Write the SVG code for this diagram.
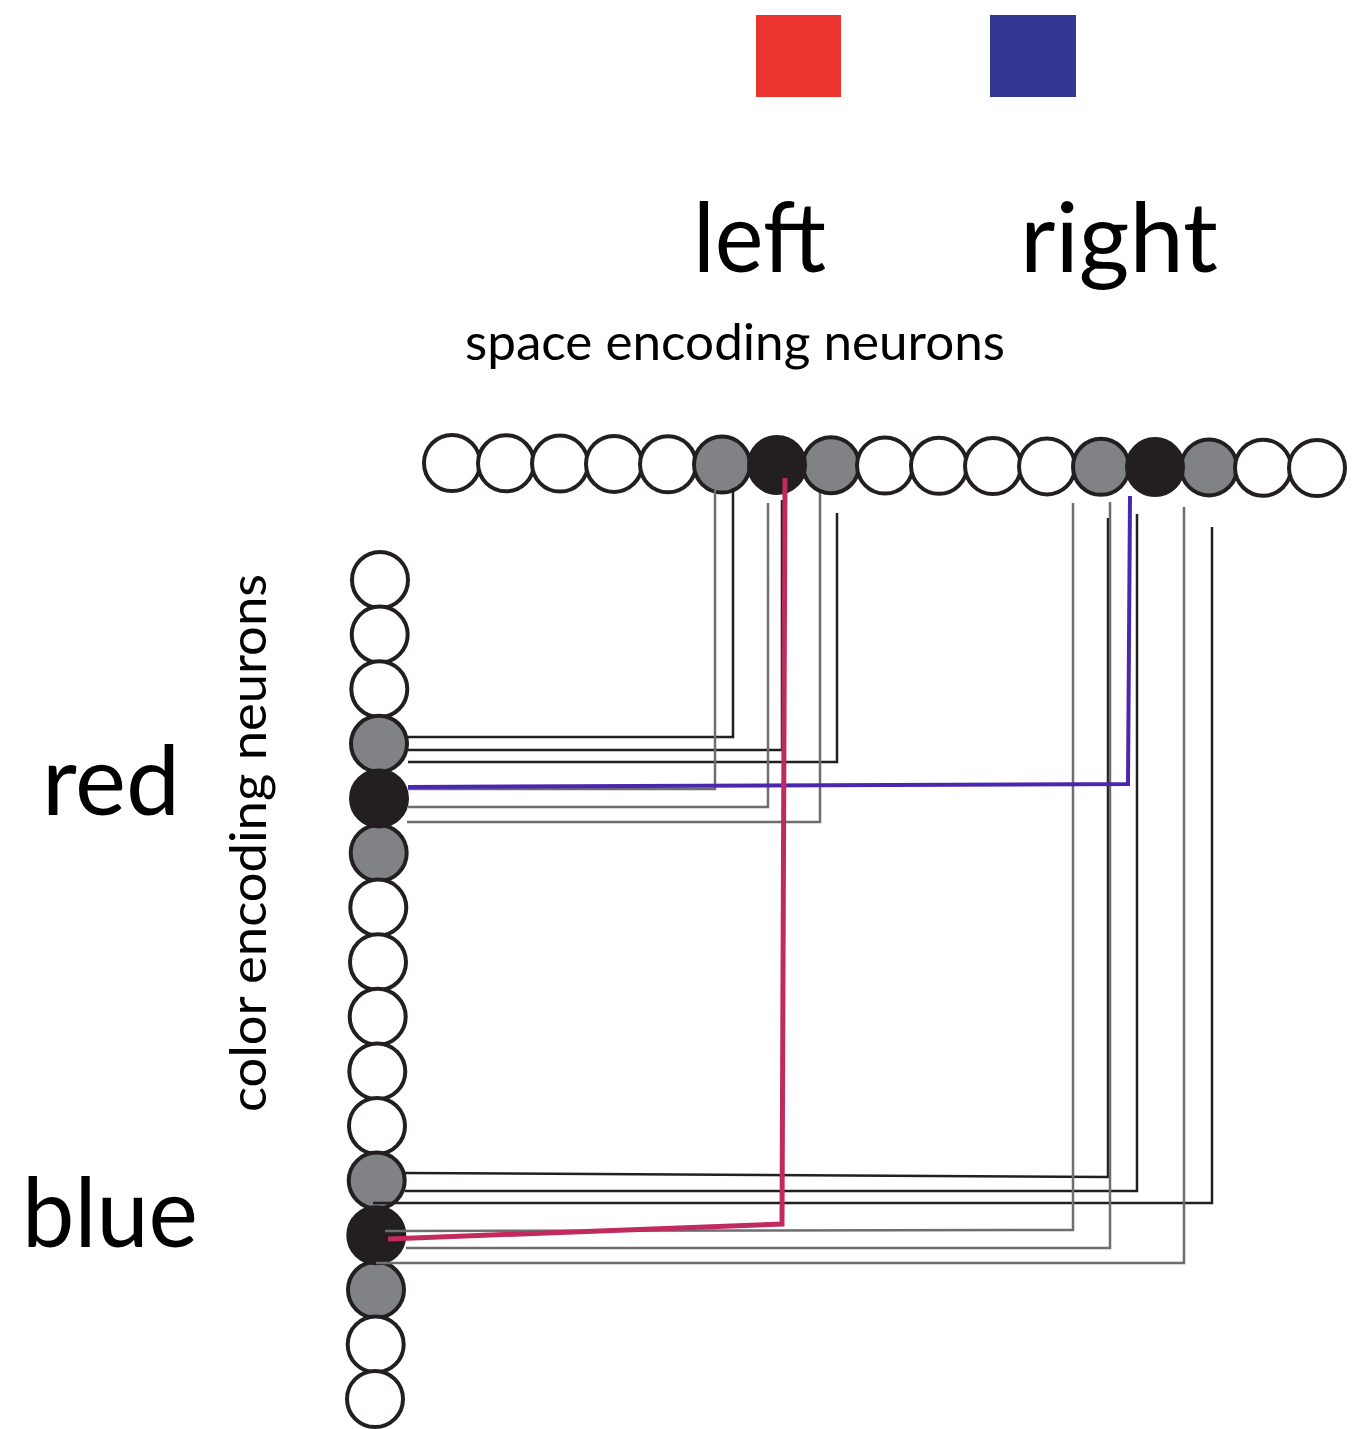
<svg xmlns="http://www.w3.org/2000/svg" width="1367" height="1429" viewBox="0 0 1367 1429">
<style>
.lbl{font-family:Lato,"Open Sans","Liberation Sans",sans-serif;fill:#000}
.n{stroke:#231f20;stroke-width:4}
.w{fill:#fff}
.g{fill:#808285}
.k{fill:#231f20}
.cb{fill:none;stroke:#231f20;stroke-width:2.5}
.cg{fill:none;stroke:#6d6e71;stroke-width:2.5}
</style>
<rect x="0" y="0" width="1367" height="1429" fill="#fff"/>
<g id="legend">
<rect id="legend-red" x="756" y="15" width="85" height="82" fill="#eb3430"/>
<rect id="legend-blue" x="990" y="15" width="86" height="82" fill="#333894"/>
</g>
<g id="labels">
<text class="lbl" x="693" y="272" font-size="97" textLength="133" lengthAdjust="spacingAndGlyphs">left</text>
<text class="lbl" x="1020" y="272" font-size="97" textLength="198" lengthAdjust="spacingAndGlyphs">right</text>
<text class="lbl" x="465" y="360" font-size="50" textLength="540" lengthAdjust="spacingAndGlyphs" fill="#231f20">space encoding neurons</text>
<text class="lbl" x="42" y="815" font-size="97" textLength="138" lengthAdjust="spacingAndGlyphs">red</text>
<text class="lbl" x="22" y="1247" font-size="97" textLength="176" lengthAdjust="spacingAndGlyphs">blue</text>
<text class="lbl" transform="translate(266,1112) rotate(-90)" x="0" y="0" font-size="50" textLength="538" lengthAdjust="spacingAndGlyphs" fill="#231f20">color encoding neurons</text>
</g>
<g id="space-neurons">
<circle id="s0" class="n w" cx="452" cy="463" r="28"/>
<circle id="s1" class="n w" cx="506" cy="463.3" r="28"/>
<circle id="s2" class="n w" cx="560" cy="463.6" r="28"/>
<circle id="s3" class="n w" cx="614" cy="463.9" r="28"/>
<circle id="s4" class="n w" cx="668" cy="464.3" r="28"/>
<circle id="s5" class="n g" cx="722" cy="464.6" r="28"/>
<circle id="s7" class="n g" cx="831" cy="465.2" r="28"/>
<circle id="s6" class="n k" cx="777" cy="464.9" r="28"/>
<circle id="s8" class="n w" cx="885" cy="465.5" r="28"/>
<circle id="s9" class="n w" cx="939" cy="465.8" r="28"/>
<circle id="s10" class="n w" cx="993" cy="466.1" r="28"/>
<circle id="s11" class="n w" cx="1047" cy="466.4" r="28"/>
<circle id="s12" class="n g" cx="1101" cy="466.8" r="28"/>
<circle id="s14" class="n g" cx="1209" cy="467.4" r="28"/>
<circle id="s13" class="n k" cx="1155" cy="467.1" r="28"/>
<circle id="s15" class="n w" cx="1263" cy="467.7" r="28"/>
<circle id="s16" class="n w" cx="1317" cy="468" r="28"/>
</g>
<g id="color-neurons">
<circle id="c0" class="n w" cx="380" cy="580" r="28"/>
<circle id="c1" class="n w" cx="379.7" cy="634.6" r="28"/>
<circle id="c2" class="n w" cx="379.3" cy="689.2" r="28"/>
<circle id="c3" class="n g" cx="379" cy="743.8" r="28"/>
<circle id="c5" class="n g" cx="378.7" cy="853" r="28"/>
<circle id="c4" class="n k" cx="379" cy="798.4" r="28"/>
<circle id="c6" class="n w" cx="378.3" cy="907.6" r="28"/>
<circle id="c7" class="n w" cx="378" cy="962.2" r="28"/>
<circle id="c8" class="n w" cx="377.7" cy="1016.8" r="28"/>
<circle id="c9" class="n w" cx="377.3" cy="1071.4" r="28"/>
<circle id="c10" class="n w" cx="377" cy="1126" r="28"/>
<circle id="c11" class="n g" cx="376.7" cy="1180.6" r="28"/>
<circle id="c13" class="n g" cx="376" cy="1289.8" r="28"/>
<circle id="c12" class="n k" cx="376.3" cy="1235.2" r="28"/>
<circle id="c14" class="n w" cx="375.7" cy="1344.4" r="28"/>
<circle id="c15" class="n w" cx="375" cy="1399" r="28"/>
</g>
<g id="connectors">
<polyline class="cb" points="733,488 733,737 408,737"/>
<polyline class="cb" points="782,500 782,750 408,750"/>
<polyline class="cb" points="837,513 837,762 408,762"/>
<polyline class="cg" points="715,490 715,789 408,789"/>
<polyline class="cg" points="768,503 768,807 408,807"/>
<polyline class="cg" points="820,493 820,822 407,822"/>
<polyline class="cb" points="1108,518 1108,1177 405,1173"/>
<polyline class="cb" points="1137,514 1137,1191 405,1191"/>
<polyline class="cb" points="1212,527 1212,1203 373,1203"/>
<polyline class="cg" points="1073,503 1073,1230 385,1231"/>
<polyline class="cg" points="1110,502 1110,1248 406,1248"/>
<polyline class="cg" points="1184,507 1184,1263 376,1263"/>
<polyline fill="none" stroke="#4b26ae" stroke-width="4" points="408,787 1128,784 1130,496"/>
<polyline fill="none" stroke="#c02a5e" stroke-width="5" points="785,478 782,1224 388,1239"/>
</g>
</svg>
